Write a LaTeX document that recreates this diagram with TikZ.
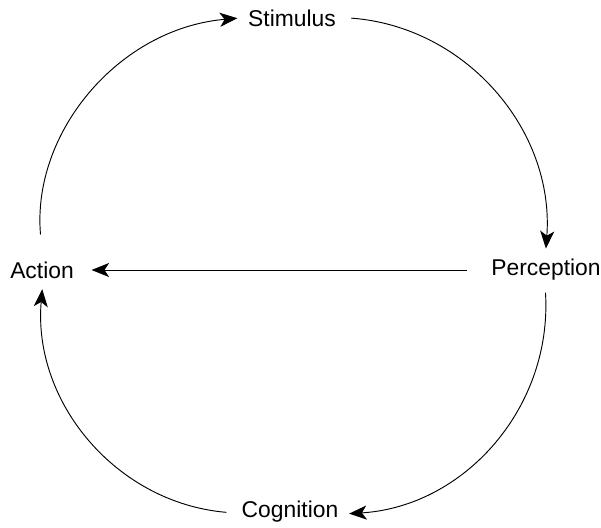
\documentclass[tikz,border=0pt]{standalone}
\usepackage{fontspec}
\setmainfont{Liberation Sans}
\usetikzlibrary{arrows.meta}

\begin{document}
\begin{tikzpicture}[x=0.03cm, y=-0.03cm]

    % =================================================================
    % KHUNG HÌNH
    % =================================================================
    \useasboundingbox (0,0) rectangle (601,527);

    \tikzset{
        stage/.style={inner sep=9pt, font=\fontsize{19.5}{23}\selectfont},
        loop/.style={-{Stealth[length=15pt, width=12pt, inset=4pt]},
            line width=0.8pt, shorten <=4pt}
    }

    % Bốn giai đoạn trên vòng tròn
    \node[stage] (stimulus)   at (292,18)  {Stimulus};
    \node[stage] (perception) at (546,270) {Perception};
    \node[stage] (cognition)  at (290,512) {Cognition};
    \node[stage] (action)     at (42,270)  {Action};

    % Các cung nối theo vòng tròn
    \draw[loop, shorten <=14pt] (action) to[bend left=45] (stimulus);
    \draw[loop] (stimulus) to[bend left=45] (perception);
    \draw[loop, shorten <=1pt] (perception) to[bend left=45] (cognition);
    \draw[loop] (cognition) to[bend left=45] (action);

    % Mũi tên ngang ở giữa
    \draw[loop, shorten <=12pt, shorten >=6pt] (perception) -- (action);

\end{tikzpicture}
\end{document}
